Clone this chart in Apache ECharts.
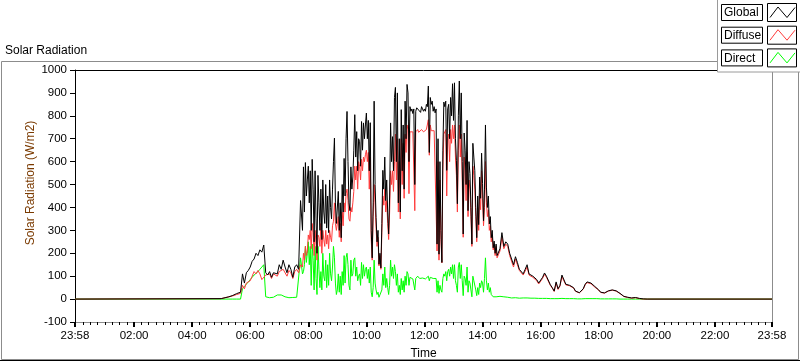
<!DOCTYPE html>
<html><head><meta charset="utf-8">
<script src="https://cdn.jsdelivr.net/npm/echarts@6/dist/echarts.min.js"></script>
<style>html,body{margin:0;padding:0;background:#fff}#c{width:800px;height:361px}</style>
</head><body><div id="c"></div>
<script>
// ---- axis definition ----
const axisStartMinute = -2;     // 23:58 previous day
const axisEndMinute = 1438;     // 23:58
const xLabelMinutes = [-2, 120, 240, 360, 480, 600, 720, 840, 960, 1080, 1200, 1320, 1438];
const yMin = -100, yMax = 1000, yInterval = 100;

// ---- sampling: [start minute, step minutes, count] ----
// 05:00-07:44 every 4 min, 07:48-14:30 every 2 min, 14:32-19:48 every 4 min
const samplingSegments = [[300, 4, 42], [468, 2, 202], [872, 4, 80]];
const nightValue = 0;
const seriesNames = ['Global', 'Diffuse', 'Direct'];

const globalRad = [
  // 05:00-07:44
  2, 4, 6, 8, 10, 13, 16, 20, 24, 27, 30, 110, 70, 115, 125,
  140, 165, 175, 200, 190, 215, 205, 236, 115, 105, 120, 95, 115, 120, 110,
  150, 130, 170, 140, 115, 150, 130, 95, 140, 150, 130, 430,
  // 07:48-07:58
  300, 577, 380, 596, 450, 520,
  // 08:00-08:58
  580, 420, 560, 300, 610, 480, 250, 560, 350, 200, 540, 420, 300, 480, 260,
  520, 380, 330, 500, 310, 450, 290, 520, 400, 350, 480, 600, 703, 420, 330,
  // 09:00-09:58
  330, 470, 300, 420, 268, 500, 380, 614, 450, 700, 819, 600, 420, 386, 577,
  480, 533, 650, 805, 620, 731, 560, 700, 687, 580, 775, 650, 769, 700, 760,
  // 10:00-10:58
  812, 700, 780, 560, 770, 298, 180, 420, 864, 500, 356, 250, 300, 152, 200,
  136, 330, 562, 480, 620, 430, 520, 380, 284, 450, 769, 600, 709, 560, 880,
  // 11:00-11:58
  924, 600, 900, 420, 700, 380, 827, 560, 760, 480, 864, 700, 937, 900, 600,
  840, 820, 830, 810, 830, 500, 820, 835, 840, 825, 830, 815, 840, 830, 820,
  // 12:00-12:58
  830, 820, 850, 840, 930, 640, 880, 850, 864, 820, 840, 813, 830, 240, 700,
  196, 600, 300, 160, 650, 860, 840, 864, 562, 830, 850, 700, 880, 800, 940,
  // 13:00-13:58
  780, 944, 700, 606, 416, 800, 952, 700, 900, 600, 284, 725, 650, 500, 780,
  386, 600, 548, 400, 240, 680, 620, 560, 400, 268, 450, 325, 533, 440, 637,
  // 14:00-14:30
  505, 342, 480, 760, 489, 400, 450, 328, 360, 268, 300, 224, 253, 200, 240, 190,
  // 14:32-14:56
  190, 220, 290, 230, 250, 240, 200,
  // 15:00-18:56
  200, 150, 185, 160, 130, 125, 110, 130, 150, 110, 105, 100, 95, 85, 70,
  75, 95, 114, 100, 92, 63, 50, 35, 75, 45, 60, 105, 100, 65, 60,
  60, 55, 50, 35, 30, 28, 30, 45, 65, 75, 72, 70, 65, 55, 50,
  40, 30, 26, 27, 30, 36, 38, 40, 38, 36, 32, 25, 18, 12, 10,
  // 19:00-19:48
  8, 6, 5, 6, 7, 6, 3, 2, 1, 0, 0, 0, 0
];
const diffuseRad = [
  // 05:00-07:44
  2, 4, 6, 8, 10, 12, 14, 17, 20, 22, 25, 60, 45, 70, 75,
  80, 100, 120, 110, 125, 110, 85, 80, 105, 100, 110, 90, 110, 105, 100,
  120, 115, 130, 125, 100, 125, 115, 90, 120, 130, 115, 150,
  // 07:48-07:58
  140, 200, 170, 230, 190, 210,
  // 08:00-08:58
  280, 260, 300, 220, 330, 290, 190, 300, 240, 170, 280, 270, 230, 330, 200,
  300, 260, 230, 300, 240, 280, 220, 300, 270, 250, 320, 340, 420, 330, 300,
  // 09:00-09:58
  300, 360, 270, 330, 250, 380, 320, 420, 380, 460, 480, 430, 350, 340, 400,
  380, 420, 470, 580, 520, 580, 480, 600, 580, 520, 610, 560, 620, 600, 630,
  // 10:00-10:58
  650, 600, 640, 480, 620, 260, 170, 360, 500, 420, 310, 230, 270, 145, 190,
  130, 290, 450, 410, 480, 380, 430, 330, 260, 380, 560, 500, 560, 470, 600,
  // 11:00-11:58
  720, 520, 700, 380, 600, 350, 700, 500, 680, 440, 720, 640, 760, 740, 460,
  730, 725, 735, 730, 735, 386, 730, 735, 740, 728, 735, 725, 740, 735, 730,
  // 12:00-12:58
  735, 730, 740, 745, 783, 628, 760, 735, 740, 728, 735, 727, 730, 210, 600,
  170, 520, 260, 158, 560, 720, 730, 740, 450, 700, 720, 600, 740, 680, 760,
  // 13:00-13:58
  700, 760, 620, 540, 380, 650, 760, 620, 720, 520, 270, 620, 560, 430, 640,
  360, 520, 480, 360, 230, 580, 540, 480, 360, 250, 400, 300, 460, 390, 560,
  // 14:00-14:30
  440, 320, 400, 600, 420, 360, 390, 300, 320, 250, 280, 215, 240, 190, 230, 180,
  // 14:32-14:56
  180, 210, 270, 220, 240, 230, 190,
  // 15:00-18:56
  190, 140, 175, 150, 125, 118, 105, 122, 140, 105, 100, 95, 90, 80, 66,
  72, 90, 108, 95, 88, 60, 48, 33, 70, 42, 57, 98, 95, 62, 58,
  58, 53, 48, 34, 29, 27, 29, 43, 62, 72, 69, 67, 62, 52, 48,
  39, 29, 25, 26, 29, 35, 37, 39, 37, 35, 31, 24, 17, 11, 9,
  // 19:00-19:48
  7, 5, 4, 5, 6, 5, 2, 1, 0, 0, 0, 0, 0
];
const directRad = [
  // 05:00-07:44
  0, 0, 0, 0, 0, 0, 0, 0, 0, 0, 0, 45, 55, 65, 75,
  85, 95, 105, 110, 120, 130, 140, 150, 10, 8, 6, 5, 8, 15, 18,
  18, 18, 15, 10, 5, 6, 5, 7, 5, 8, 10, 180,
  // 07:48-07:58
  110, 120, 150, 230, 160, 200,
  // 08:00-08:58
  250, 150, 230, 60, 240, 170, 40, 230, 90, 20, 230, 130, 50, 120, 40,
  200, 100, 80, 170, 50, 150, 60, 200, 110, 80, 140, 230, 180, 70, 20,
  // 09:00-09:58
  40, 110, 30, 100, 20, 120, 60, 190, 70, 180, 200, 150, 60, 40, 170,
  100, 110, 170, 180, 100, 140, 80, 100, 110, 60, 160, 90, 150, 100, 130,
  // 10:00-10:58
  140, 90, 130, 70, 140, 30, 10, 50, 170, 70, 40, 20, 30, 8, 10,
  6, 40, 110, 60, 140, 50, 90, 50, 20, 60, 170, 100, 140, 90, 150,
  // 11:00-11:58
  120, 60, 110, 30, 60, 20, 90, 40, 80, 30, 100, 60, 120, 110, 60,
  95, 90, 92, 88, 90, 40, 90, 95, 100, 92, 90, 88, 95, 92, 88,
  // 12:00-12:58
  90, 88, 92, 90, 100, 80, 95, 92, 100, 90, 92, 88, 90, 30, 80,
  25, 60, 40, 30, 90, 110, 100, 120, 80, 120, 130, 100, 140, 110, 150,
  // 13:00-13:58
  90, 150, 80, 60, 30, 140, 160, 90, 150, 80, 15, 100, 90, 60, 140,
  30, 80, 70, 40, 10, 100, 80, 80, 40, 15, 50, 20, 70, 50, 80,
  // 14:00-14:30
  70, 30, 90, 180, 80, 40, 70, 30, 50, 20, 25, 10, 12, 8, 10, 6,
  // 14:32-14:56
  10, 12, 15, 10, 8, 8, 6,
  // 15:00-18:56
  5, 5, 6, 5, 4, 6, 5, 4, 5, 4, 4, 3, 4, 3, 3,
  3, 3, 4, 3, 3, 2, 2, 2, 3, 2, 2, 3, 3, 2, 2,
  2, 2, 2, 1, 1, 1, 1, 2, 2, 2, 2, 2, 2, 2, 2,
  1, 1, 1, 1, 1, 1, 1, 1, 1, 1, 1, 0, 0, 0, 0,
  // 19:00-19:48
  0, 0, 0, 0, 0, 0, 0, 0, 0, 0, 0, 0, 0
];

// ---- sample times from the sampling segments ----
const sampleMinutes = [];
samplingSegments.forEach(([start, step, count]) => {
  for (let i = 0; i < count; i++) sampleMinutes.push(start + i * step);
});
function buildSeries(values) {
  const out = [[axisStartMinute, nightValue]];
  values.forEach((v, i) => out.push([sampleMinutes[i], v]));
  out.push([axisEndMinute, nightValue]);
  return out;
}
function fmtTime(m) {
  const mm = ((Math.round(m) % 1440) + 1440) % 1440;
  const h = Math.floor(mm / 60), mi = mm % 60;
  return String(h).padStart(2, '0') + ':' + String(mi).padStart(2, '0');
}
const minorTickMinutes = [];
for (let m = 15; m < 1438; m += 15) if (m % 120 !== 0) minorTickMinutes.push(m);

const FONT = '"Liberation Sans", Arial, sans-serif';
const colors = { Global: '#000000', Diffuse: '#ff3c3c', Direct: '#00ff00' };

const chart = echarts.init(document.getElementById('c'), null, { renderer: 'canvas' });

const legendItems = seriesNames.map((name, k) => {
  const y0 = 4 + k * 22.7;
  return [
    { type: 'rect', shape: { x: 721.5, y: y0 + 0.5, width: 41, height: 16 }, style: { fill: '#fff', stroke: '#000', lineWidth: 1 }, z: 101 },
    { type: 'text', style: { x: 724, y: y0 + 9, text: name, font: '12px ' + FONT, fill: '#000', textVerticalAlign: 'middle' }, z: 102 },
    { type: 'rect', shape: { x: 767.5, y: y0 - 0.5, width: 29, height: 18 }, style: { fill: '#fff', stroke: '#000', lineWidth: 1 }, z: 101 },
    { type: 'polyline', shape: { points: [[770, y0 + 13.5], [778, y0 + 3], [787, y0 + 13.5], [795, y0 + 3.5]] }, style: { stroke: colors[name], lineWidth: 1, fill: null }, z: 102 }
  ];
}).flat();

chart.setOption({
  animation: false,
  backgroundColor: '#fff',
  textStyle: { fontFamily: FONT },
  grid: { left: 75, right: 28, top: 70, bottom: 39, containLabel: false, outerBoundsMode: 'none' },
  xAxis: [
    {
      type: 'value', min: axisStartMinute, max: axisEndMinute,
      name: 'Time', nameLocation: 'middle', nameGap: 26,
      nameTextStyle: { color: '#000', fontSize: 12, fontFamily: FONT },
      axisLine: { show: true, onZero: false, lineStyle: { color: '#8c8c8c', width: 1 } },
      axisTick: { show: true, customValues: xLabelMinutes, length: 5, inside: false, lineStyle: { color: '#000', width: 2 } },
      axisLabel: { customValues: xLabelMinutes, formatter: v => fmtTime(v), margin: 8, fontSize: 11.5, color: '#000', fontFamily: FONT },
      splitLine: { show: false }
    },
    {
      type: 'value', min: axisStartMinute, max: axisEndMinute, position: 'bottom', offset: 0,
      axisLine: { show: false, onZero: false },
      axisTick: { show: true, customValues: minorTickMinutes, length: 3, lineStyle: { color: '#000', width: 1 } },
      axisLabel: { show: false }, splitLine: { show: false }
    },
    {
      type: 'value', min: axisStartMinute, max: axisEndMinute, position: 'top',
      axisLine: { show: true, onZero: false, lineStyle: { color: '#000', width: 1 } },
      axisTick: { show: false }, axisLabel: { show: false }, splitLine: { show: false }
    }
  ],
  yAxis: [
    {
      type: 'value', min: yMin, max: yMax, interval: yInterval,
      axisLine: { show: true, onZero: false, lineStyle: { color: '#000', width: 1 } },
      axisTick: { show: true, length: 5, lineStyle: { color: '#000' } },
      axisLabel: { margin: 8, fontSize: 11.5, color: '#000', fontFamily: FONT, formatter: v => String(v) },
      splitLine: { show: false }
    },
    {
      type: 'value', min: yMin, max: yMax, interval: yInterval, position: 'right',
      axisLine: { show: true, onZero: false, lineStyle: { color: '#8c8c8c', width: 1 } },
      axisTick: { show: false }, axisLabel: { show: false }, splitLine: { show: false }
    }
  ],
  series: [
    { name: 'Direct', type: 'line', data: buildSeries(directRad), showSymbol: false, symbol: 'none', lineStyle: { color: colors.Direct, width: 1 }, itemStyle: { color: colors.Direct }, z: 2 },
    { name: 'Diffuse', type: 'line', data: buildSeries(diffuseRad), showSymbol: false, symbol: 'none', lineStyle: { color: colors.Diffuse, width: 1 }, itemStyle: { color: colors.Diffuse }, z: 3 },
    { name: 'Global', type: 'line', data: buildSeries(globalRad), showSymbol: false, symbol: 'none', lineStyle: { color: colors.Global, width: 1 }, itemStyle: { color: colors.Global }, z: 4 }
  ],
  graphic: [
    { type: 'rect', shape: { x: 1.5, y: 61.5, width: 797, height: 298 }, style: { fill: null, stroke: '#8c8c8c', lineWidth: 1 }, z: 0 },
    { type: 'line', shape: { x1: 0, y1: 360.5, x2: 800, y2: 360.5 }, style: { stroke: '#000', lineWidth: 1 }, z: 0 },
    { type: 'text', style: { x: 5, y: 51, text: 'Solar Radiation', font: '12px ' + FONT, fill: '#000', textVerticalAlign: 'middle' }, z: 10 },
    { type: 'text', x: 31, y: 183, rotation: Math.PI / 2, style: { x: 0, y: 0, text: 'Solar Radiation (W/m2)', font: '12px ' + FONT, fill: '#7a3a00', textAlign: 'center', textVerticalAlign: 'middle' }, z: 10 },
    { type: 'rect', shape: { x: 717.5, y: -1, width: 84, height: 73 }, style: { fill: '#fff', stroke: '#9a9a9a', lineWidth: 1 }, z: 100 },
    ...legendItems
  ]
});
</script>
</body></html>
